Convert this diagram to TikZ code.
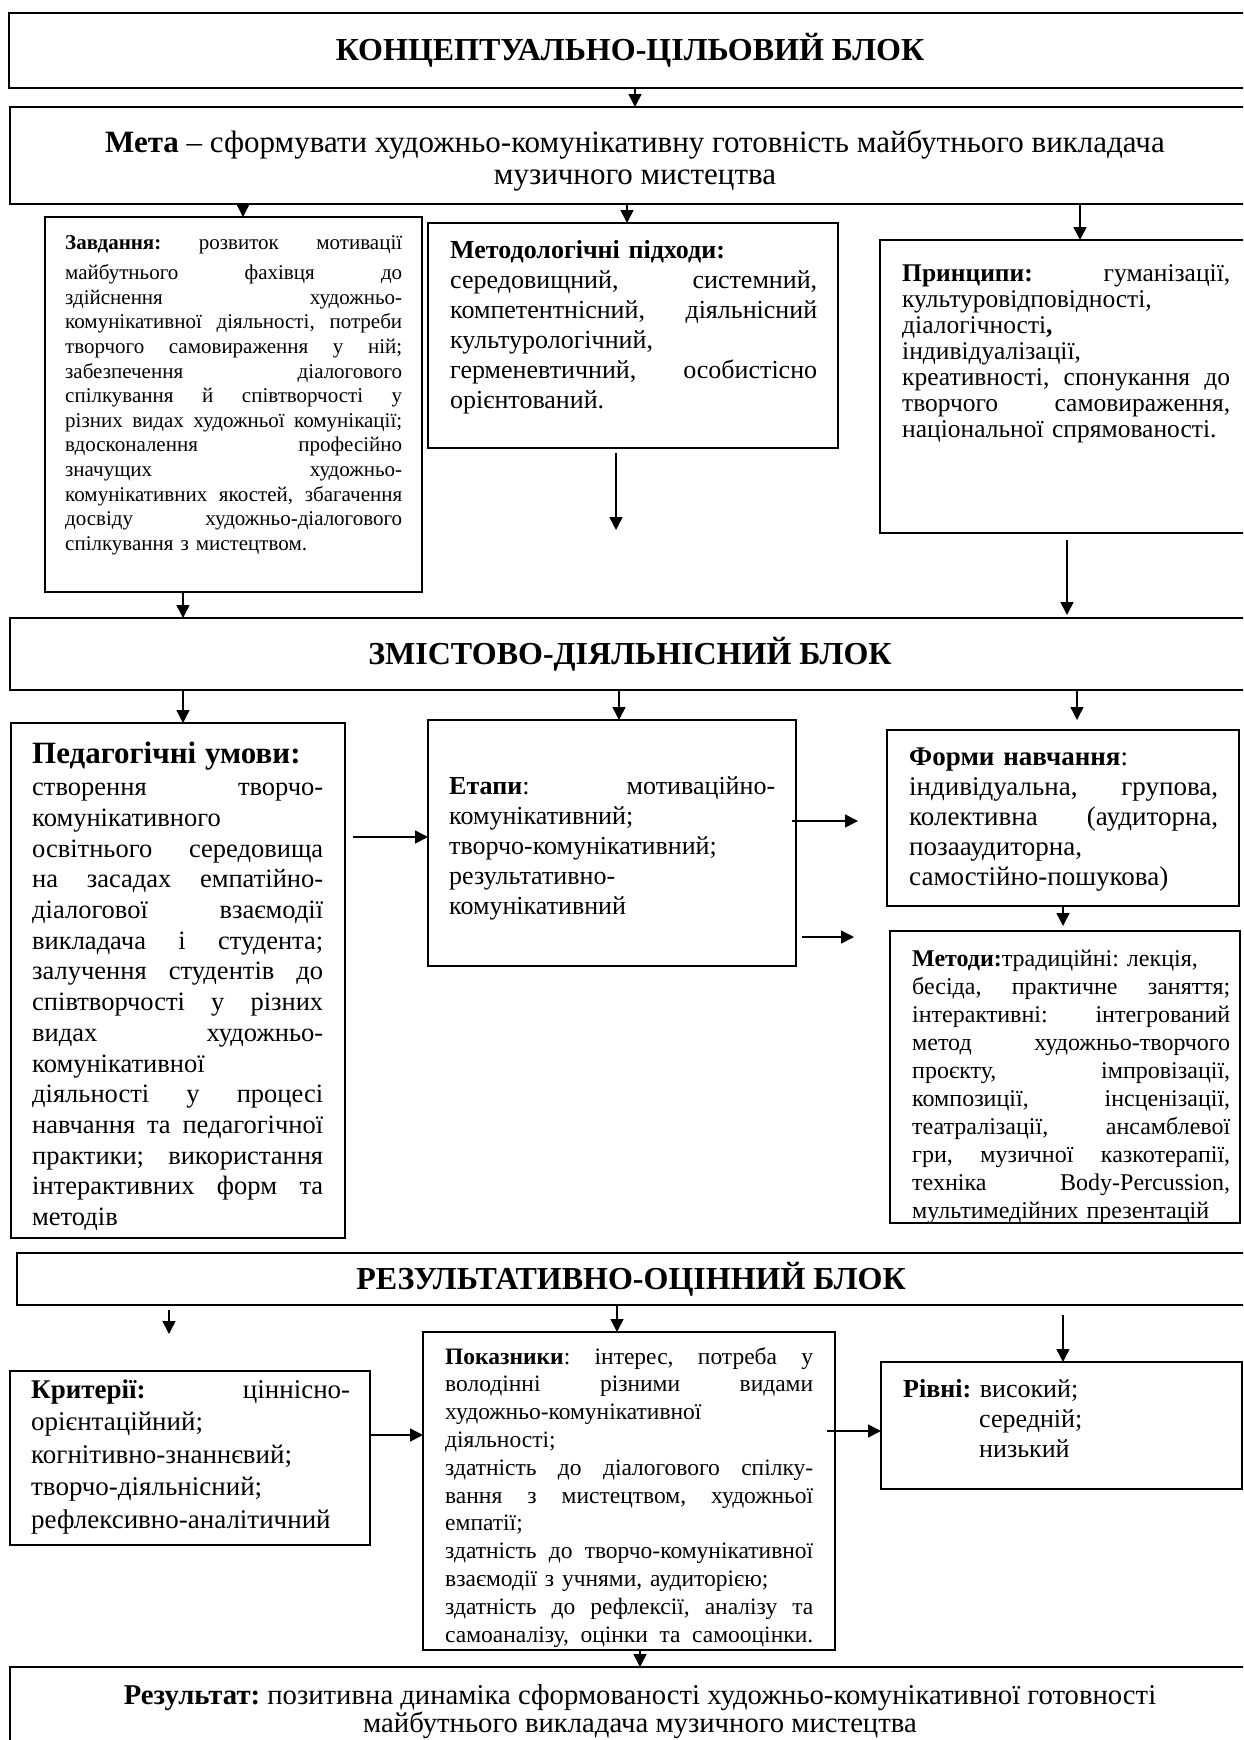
\documentclass[tikz,border=0pt]{standalone}
\usepackage{fontspec}
\setmainfont{Liberation Serif}
\usetikzlibrary{arrows.meta,positioning}
\tolerance=10000
\hbadness=10000
\frenchspacing
% one justified line of a box
\newcommand{\jl}[1]{\makebox[\hsize][s]{\spaceskip=0pt\xspaceskip=0pt\relax #1}}
\tikzset{
  frame/.style    ={draw=black, line width=1.8pt, inner sep=0pt, outer sep=0pt},
  blockbox/.style ={frame, align=center, font=\fontsize{32}{38}\selectfont\bfseries},
  widebox/.style  ={frame, align=center},
  textpart/.style ={anchor=base west, inner sep=0pt, align=left},
  flowarr/.style  ={-{Triangle[length=13pt,width=13pt]}, line width=1.5pt},
}
\begin{document}
\begin{tikzpicture}[x=1pt,y=-1pt]
  \useasboundingbox (0,0) rectangle (1243,1740);
  \clip (0,0) rectangle (1243,1740);

  % conceptual block
  \node[blockbox, minimum width=1242pt, minimum height=75pt] (conc) at (630,50.5) {КОНЦЕПТУАЛЬНО-ЦІЛЬОВИЙ БЛОК};
  \node[widebox, minimum width=1250pt, minimum height=97pt, font=\fontsize{31}{32}\selectfont] (meta) at (635,155.5)
    {\rule{0pt}{33pt}\textbf{Мета} – сформувати художньо-комунікативну готовність майбутнього викладача\\ музичного мистецтва};

  \node[frame, anchor=north west, minimum width=377pt, minimum height=375pt] (task) at (45,217) {};
  \node[textpart, text width=337pt, font=\fontsize{21}{24.6}\selectfont] (task-t) at (65,249) {%
    \jl{\textbf{Завдання:} розвиток мотивації}\\[6pt]
    \jl{майбутнього фахівця до}\\
    \jl{здійснення художньо-}\\
    \jl{комунікативної діяльності, потреби}\\
    \jl{творчого самовираження у ній;}\\
    \jl{забезпечення діалогового}\\
    \jl{спілкування й співтворчості у}\\
    \jl{різних видах художньої комунікації;}\\
    \jl{вдосконалення професійно}\\
    \jl{значущих художньо-}\\
    \jl{комунікативних якостей, збагачення}\\
    \jl{досвіду художньо-діалогового}\\
    спілкування з мистецтвом.};

  \node[frame, anchor=north west, minimum width=410pt, minimum height=225pt] (meth) at (428,223) {};
  \node[textpart, text width=367pt, font=\fontsize{26}{30}\selectfont] (meth-t) at (450,258) {%
    \textbf{Методологічні підходи:}\\
    \jl{середовищний, системний,}\\
    \jl{компетентнісний, діяльнісний}\\
    культурологічний,\\
    \jl{герменевтичний, особистісно}\\
    орієнтований.};

  \node[frame, anchor=north west, minimum width=380pt, minimum height=293pt] (princ) at (880,240) {};
  \node[textpart, text width=328pt, font=\fontsize{25.5}{26}\selectfont] (princ-t) at (902,281) {%
    \jl{\textbf{Принципи:} гуманізації,}\\
    культуровідповідності,\\
    діалогічності\textbf{,}\\
    індивідуалізації,\\
    \jl{креативності, спонукання до}\\
    \jl{творчого самовираження,}\\
    національної спрямованості.};

  % content block
  \node[blockbox, minimum width=1240pt, minimum height=72pt] (zd) at (630,654) {ЗМІСТОВО-ДІЯЛЬНІСНИЙ БЛОК};

  \node[frame, anchor=north west, minimum width=334pt, minimum height=515pt] (ped) at (11,723) {};
  \node[textpart, text width=291pt, font=\fontsize{26.5}{30.7}\selectfont] (ped-t) at (32,763) {%
    {\fontsize{31}{34}\selectfont\textbf{Педагогічні умови:}}\\[2pt]
    \jl{створення творчо-}\\
    комунікативного\\
    \jl{освітнього середовища}\\
    \jl{на засадах емпатійно-}\\
    \jl{діалогової взаємодії}\\
    \jl{викладача і студента;}\\
    \jl{залучення студентів до}\\
    \jl{співтворчості у різних}\\
    \jl{видах художньо-}\\
    комунікативної\\
    \jl{діяльності у процесі}\\
    \jl{навчання та педагогічної}\\
    \jl{практики; використання}\\
    \jl{інтерактивних форм та}\\
    методів};

  \node[frame, anchor=north west, minimum width=368pt, minimum height=246pt] (etap) at (428,720) {};
  \node[textpart, text width=326pt, font=\fontsize{26}{30}\selectfont] (etap-t) at (449,794) {%
    \jl{\textbf{Етапи}: мотиваційно-}\\
    комунікативний;\\
    творчо-комунікативний;\\
    результативно-\\
    комунікативний};

  \node[frame, anchor=north west, minimum width=352pt, minimum height=176pt] (form) at (887,730) {};
  \node[textpart, text width=309pt, font=\fontsize{27}{30}\selectfont] (form-t) at (909,765) {%
    \textbf{Форми навчання}:\\
    \jl{індивідуальна, групова,}\\
    \jl{колективна (аудиторна,}\\
    позааудиторна,\\
    самостійно-пошукова)};

  \node[frame, anchor=north west, minimum width=350pt, minimum height=292pt] (methods) at (890,931) {};
  \begin{scope}
    \clip (890,931) rectangle (1240,1223);
    \node[textpart, text width=318pt, font=\fontsize{24}{28}\selectfont] (methods-t) at (912,966) {%
      \textbf{Методи:}традиційні: лекція,\\
      \jl{бесіда, практичне заняття;}\\
      \jl{інтерактивні: інтегрований}\\
      \jl{метод художньо-творчого}\\
      \jl{проєкту, імпровізації,}\\
      \jl{композиції, інсценізації,}\\
      \jl{театралізації, ансамблевої}\\
      \jl{гри, музичної казкотерапії,}\\
      \jl{техніка Body-Percussion,}\\
      мультимедійних презентацій};
  \end{scope}

  % result block
  \node[blockbox, minimum width=1228pt, minimum height=52pt] (ro) at (631,1279) {РЕЗУЛЬТАТИВНО-ОЦІННИЙ БЛОК};

  \node[frame, anchor=north west, minimum width=360pt, minimum height=174pt] (crit) at (10,1371) {};
  \node[textpart, text width=319pt, font=\fontsize{27}{32.5}\selectfont] (crit-t) at (31,1398) {%
    \jl{\textbf{Критерії:} ціннісно-}\\
    орієнтаційний;\\
    когнітивно-знаннєвий;\\
    творчо-діяльнісний;\\
    рефлексивно-аналітичний};

  \node[frame, anchor=north west, minimum width=412pt, minimum height=318pt] (ind) at (423,1332) {};
  \node[textpart, text width=368pt, font=\fontsize{23.5}{27.8}\selectfont] (ind-t) at (445,1364) {%
    \jl{\textbf{Показники}: інтерес, потреба у}\\
    \jl{володінні різними видами}\\
    художньо-комунікативної\\
    діяльності;\\
    \jl{здатність до діалогового спілку-}\\
    \jl{вання з мистецтвом, художньої}\\
    емпатії;\\
    \jl{здатність до творчо-комунікативної}\\
    взаємодії з учнями, аудиторією;\\
    \jl{здатність до рефлексії, аналізу та}\\
    \jl{самоаналізу, оцінки та самооцінки.}};

  \node[frame, anchor=north west, minimum width=361pt, minimum height=127pt] (lev) at (881,1362) {};
  \node[textpart, text width=330pt, font=\fontsize{26}{30}\selectfont] (lev-t) at (903,1397) {%
    \textbf{Рівні:} високий;\\
    \hspace*{76pt}середній;\\
    \hspace*{76pt}низький};

  \node[widebox, minimum width=1260pt, minimum height=90pt, font=\fontsize{28.7}{28}\selectfont] (res) at (640,1712)
    {\textbf{Результат:} позитивна динаміка сформованості художньо-комунікативної готовності\\ майбутнього викладача музичного мистецтва};

  % arrows
  \coordinate (xa) at (635,0);
  \coordinate (xb) at (243,0);
  \coordinate (xc) at (627,0);
  \coordinate (xd) at (1080,0);
  \coordinate (xe) at (183,0);
  \coordinate (xf) at (1067,0);
  \coordinate (xg) at (619,0);
  \coordinate (xh) at (1077,0);
  \coordinate (xi) at (1063,0);
  \coordinate (xj) at (169,0);
  \coordinate (xk) at (617,0);
  \coordinate (xl) at (640,0);
  \coordinate (ya) at (0,837);
  \coordinate (yb) at (0,821);
  \coordinate (yc) at (0,937);
  \coordinate (yd) at (0,1435);
  \coordinate (ye) at (0,1431);
  \coordinate (methout1) at (616,453);
  \coordinate (methout2) at (616,530);

  \draw[flowarr] (conc.south -| xa) -- (meta.north -| xa);
  \draw[flowarr] (meta.south -| xb) -- (task.north -| xb);
  \draw[flowarr] (meta.south -| xc) -- (meth.north -| xc);
  \draw[flowarr] (meta.south -| xd) -- (princ.north -| xd);
  \draw[flowarr] (task.south -| xe) -- (zd.north -| xe);
  \draw[flowarr] (methout1) -- (methout2);
  \draw[flowarr, shorten <=7pt, shorten >=3pt] (princ.south -| xf) -- (zd.north -| xf);
  \draw[flowarr] (zd.south -| xe) -- (ped.north -| xe);
  \draw[flowarr] (zd.south -| xg) -- (etap.north -| xg);
  \draw[flowarr, shorten >=10pt] (zd.south -| xh) -- (form.north -| xh);
  \draw[flowarr, shorten <=8pt] (ped.east |- ya) -- (etap.west |- ya);
  \draw[flowarr, shorten <=-4pt, shorten >=29pt] (etap.east |- yb) -- (form.west |- yb);
  \draw[flowarr, shorten <=6pt, shorten >=36pt] (etap.east |- yc) -- (methods.west |- yc);
  \draw[flowarr, shorten >=5pt] (form.south -| xi) -- (methods.north -| xi);
  \draw[flowarr, shorten <=5pt, shorten >=37pt] (ro.south -| xj) -- (crit.north -| xj);
  \draw[flowarr] (ro.south -| xk) -- (ind.north -| xk);
  \draw[flowarr, shorten <=10pt] (ro.south -| xi) -- (lev.north -| xi);
  \draw[flowarr] (crit.east |- yd) -- (ind.west |- yd);
  \draw[flowarr, shorten <=-8pt] (ind.east |- ye) -- (lev.west |- ye);
  \draw[flowarr] (ind.south -| xl) -- (res.north -| xl);
\end{tikzpicture}
\end{document}
